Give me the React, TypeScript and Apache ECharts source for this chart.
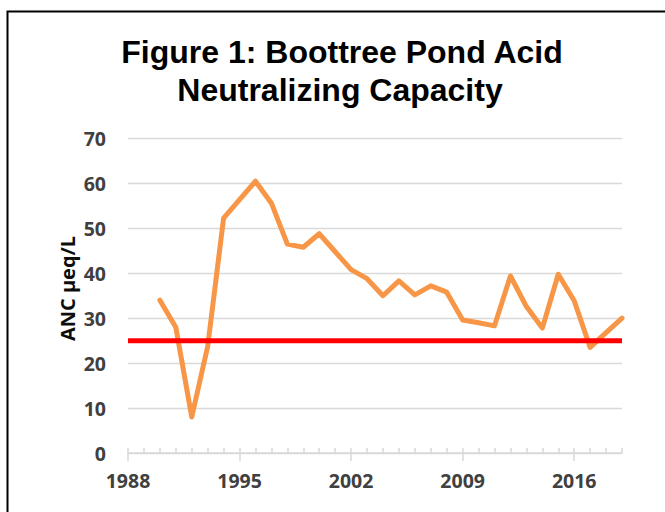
import React, { useEffect, useRef } from "react";
import * as echarts from "echarts";

const years = [
  1990, 1991, 1992, 1993, 1994, 1995, 1996, 1997, 1998, 1999, 2000, 2001, 2002, 2003, 2004,
  2005, 2006, 2007, 2008, 2009, 2010, 2011, 2012, 2013, 2014, 2015, 2016, 2017, 2018, 2019,
];
const ancValues = [
  34, 28, 8, 23.7, 52.3, 56.4, 60.5, 55.6, 46.5, 45.8, 48.8, 44.8, 40.8, 38.8, 35.0,
  38.3, 35.2, 37.2, 35.8, 29.6, 29.0, 28.3, 39.4, 32.6, 27.8, 39.8, 33.9, 23.5, 26.8, 30.0,
];
const thresholdYears = [1988, 2019];
const thresholdValue = 25;
const xTickLabels = [1988, 1995, 2002, 2009, 2016];
const yTicks = [0, 10, 20, 30, 40, 50, 60, 70];

const titleLines = ["Figure 1: Boottree Pond Acid", "Neutralizing Capacity"];
const yAxisTitle = "ANC µeq/L";

export default function App() {
  const ref = useRef<HTMLDivElement>(null);
  useEffect(() => {
    if (!ref.current) return;
    const chart = echarts.init(ref.current, null, { renderer: "svg" });
    const labelFont = {
      fontFamily: "'Open Sans'",
      fontWeight: "bold" as const,
      fontSize: 19.5,
      color: "#404040",
    };
    const titleFont = "'Liberation Sans', Arial, sans-serif";
    chart.setOption({
      animation: false,
      backgroundColor: "#ffffff",
      grid: { left: 128, right: 43, top: 138.5, bottom: 59, containLabel: false },
      xAxis: [
        {
          type: "value",
          min: xTickLabels[0],
          max: thresholdYears[1],
          interval: 7,
          axisLine: { show: true, lineStyle: { color: "#d9d9d9", width: 1.5 } },
          axisTick: {
            show: true,
            length: 8,
            customValues: xTickLabels,
            lineStyle: { color: "#d9d9d9", width: 1.5 },
          },
          axisLabel: {
            ...labelFont,
            margin: 17,
            customValues: xTickLabels,
            formatter: (v: number) => String(v),
          },
          splitLine: { show: false },
        },
        {
          type: "value",
          position: "bottom",
          min: xTickLabels[0],
          max: thresholdYears[1],
          interval: 1,
          axisLine: { show: false },
          axisTick: { show: true, inside: true, length: 5, lineStyle: { color: "#d9d9d9", width: 1.5 } },
          axisLabel: { show: false },
          splitLine: { show: false },
        },
      ],
      yAxis: {
        type: "value",
        min: yTicks[0],
        max: yTicks[yTicks.length - 1],
        interval: 10,
        axisLine: { show: false },
        axisTick: { show: false },
        axisLabel: { ...labelFont, margin: 22 },
        splitLine: { show: true, lineStyle: { color: "#d9d9d9", width: 1.3 } },
      },
      graphic: [
        {
          type: "rect",
          shape: { x: 7.5, y: 11.5, width: 700, height: 600 },
          style: { fill: "none", stroke: "#000000", lineWidth: 2 },
          silent: true,
        },
        {
          type: "text",
          x: 342,
          y: 52,
          style: {
            text: titleLines[0],
            fontFamily: titleFont,
            fontWeight: "bold",
            fontSize: 32,
            fill: "#000000",
            textAlign: "center",
            textVerticalAlign: "middle",
          },
        },
        {
          type: "text",
          x: 340,
          y: 90,
          style: {
            text: titleLines[1],
            fontFamily: titleFont,
            fontWeight: "bold",
            fontSize: 32,
            fill: "#000000",
            textAlign: "center",
            textVerticalAlign: "middle",
          },
        },
        {
          type: "text",
          x: 67,
          y: 288.5,
          rotation: Math.PI / 2,
          style: {
            text: yAxisTitle,
            fontFamily: "'Open Sans'",
            fontWeight: "bold",
            fontSize: 20,
            fill: "#0d0d0d",
            textAlign: "center",
            textVerticalAlign: "middle",
          },
        },
      ],
      series: [
        {
          type: "line",
          name: "ANC",
          xAxisIndex: 0,
          data: years.map((y, i) => [y, ancValues[i]]),
          showSymbol: false,
          symbol: "none",
          lineStyle: { color: "#f79646", width: 5, cap: "round", join: "round" },
          z: 2,
        },
        {
          type: "line",
          name: "Threshold",
          xAxisIndex: 0,
          data: thresholdYears.map((y) => [y, thresholdValue]),
          showSymbol: false,
          symbol: "none",
          lineStyle: { color: "#ff0000", width: 5 },
          z: 3,
        },
      ],
    });
    return () => chart.dispose();
  }, []);
  return (
    <div
      ref={ref}
      style={{ position: "fixed", left: 0, top: 0, width: 665, height: 512, background: "#fff" }}
    />
  );
}
